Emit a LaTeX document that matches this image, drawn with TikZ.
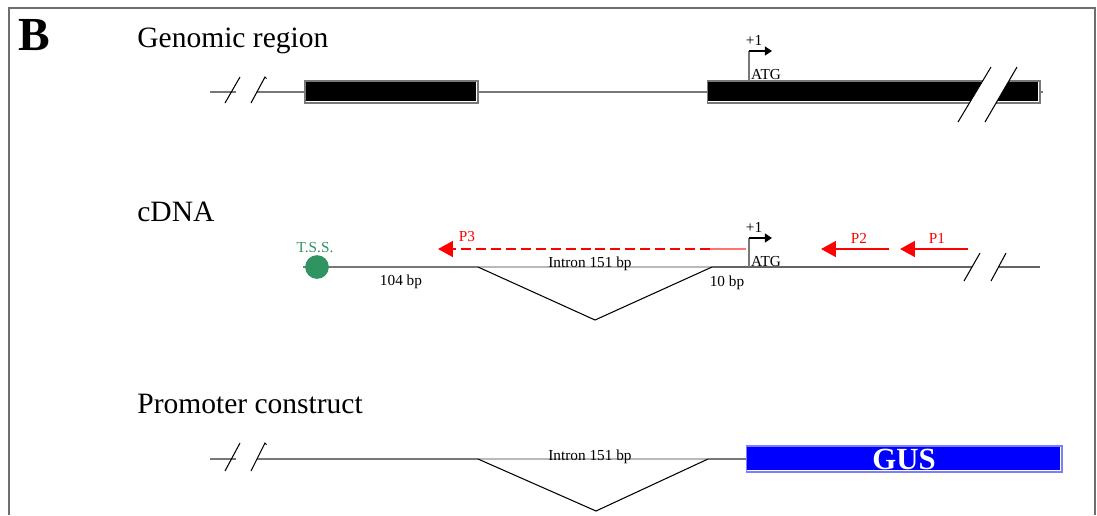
\documentclass[tikz,border=0pt]{standalone}
\usepackage{fontspec}
\setmainfont{Liberation Serif}
\usetikzlibrary{arrows.meta}
\definecolor{lgray}{RGB}{120,120,120}
\definecolor{dgray}{RGB}{100,100,100}
\definecolor{igray}{RGB}{185,185,185}
\definecolor{framegray}{RGB}{110,110,110}
\definecolor{tssgreen}{RGB}{48,148,98}
\definecolor{pinkline}{RGB}{255,115,115}
\definecolor{gusborder}{RGB}{125,125,255}
\tikzset{
  bigtxt/.style={font=\fontsize{16.8}{20}\selectfont, inner sep=0pt, anchor=base west},
  smalltxt/.style={font=\fontsize{8.7}{10}\selectfont, inner sep=0pt},
  dna/.style={draw=lgray, line width=1.3pt},
  darkdna/.style={draw=dgray, line width=1.3pt},
  intronline/.style={draw=igray, line width=1pt},
  splice/.style={draw=black, line width=0.6pt},
  brk/.style={draw=black, line width=0.6pt},
  primer/.style={draw=red, line width=1.2pt, -{Triangle[length=8.5pt,width=9pt]}},
  startarr/.style={draw=black, line width=1pt, -{Triangle[length=4pt,width=5pt]}},
  startstem/.style={draw=lgray, line width=0.8pt},
  exonbox/.style={draw=lgray, fill=black, line width=0.6pt, inner sep=0pt, minimum height=0.44cm},
}
\begin{document}
\begin{tikzpicture}[x=0.02cm,y=-0.02cm]
\useasboundingbox (0,0) rectangle (1097,515);
% frame
\draw[framegray, line width=0.9pt] (9,515) -- (9,8) -- (1095,8) -- (1095,515);
\node[font=\bfseries\fontsize{27}{30}\selectfont, inner sep=0pt, anchor=base west] (panel) at (18,50) {B};

% ---------------- Genomic region ----------------
\node[bigtxt] (tgen) at (137,47) {Genomic region};
\coordinate (g0) at (210,92);
\coordinate (g1) at (236,92);
\coordinate (g2) at (257,92);
\node[exonbox, minimum width=3.46cm] (exon1) at (391.5,92) {};
\node[exonbox, minimum width=6.66cm] (exon2) at (873.5,92) {};
\coordinate (gend) at (1043,92);
\draw[dna] (g0) -- (g1);
\draw[dna] (g2) -- (exon1.west);
\draw[dna] (exon1.east) -- (exon2.west);
\draw[dna] (exon2.east) -- (gend);
\draw[white, line width=0.6pt] ([shift={(0.6pt,1.1pt)}]exon1.south west) -- ([shift={(-1.1pt,1.1pt)}]exon1.south east) -- ([shift={(-1.1pt,-0.6pt)}]exon1.north east);
\draw[white, line width=0.6pt] ([shift={(0.6pt,1.1pt)}]exon2.south west) -- ([shift={(-1.1pt,1.1pt)}]exon2.south east) -- ([shift={(-1.1pt,-0.6pt)}]exon2.north east);
% breaks
\draw[brk] (225,103) -- (240,77);
\draw[brk] (251,103) -- (265,77) -- (266.5,78.5);
\fill[white] (958,122) -- (991,67) -- (1017,67) -- (985,122) -- cycle;
\draw[brk] (958,122) -- (991,67);
\draw[brk] (985,122) -- (1017,67);
% start
\coordinate (s1b) at (749,80);
\coordinate (s1t) at (749,51);
\coordinate (s1h) at (772,51);
\draw[startstem] (s1b) -- (s1t);
\draw[startarr] (s1t) -- (s1h);
\node[smalltxt] (p1a) at (754,40) {+1};
\node[smalltxt] (atg1) at (766,75) {ATG};

% ---------------- cDNA ----------------
\node[bigtxt] (tcdna) at (137,221) {cDNA};
\coordinate (c0) at (303,267);
\coordinate (c1) at (478,267);
\coordinate (cbot) at (595,320);
\coordinate (c2) at (712,267);
\coordinate (c3) at (972,267);
\coordinate (c4) at (999,267);
\coordinate (c5) at (1040,267);
\draw[dna] (c0) -- (c1);
\draw[intronline] (c1) -- (c2);
\draw[darkdna] (c2) -- (c3);
\draw[darkdna] (c4) -- (c5);
\draw[splice] (c1) -- (cbot) -- (c2);
\draw[brk] (964,281) -- (980,253);
\draw[brk] (991,281) -- (1006,253);
\node[circle, fill=tssgreen, inner sep=0pt, minimum width=13pt, minimum height=13.5pt] (tss) at (317,267) {};
\node[smalltxt, text=tssgreen] (tsslbl) at (315,248) {T.S.S.};
\node[smalltxt] (b104) at (401,282) {104 bp};
\node[smalltxt, anchor=base] (intr1) at (590,267.5) {Intron 151 bp};
\node[smalltxt] (b10) at (727,283) {10 bp};
% start
\coordinate (s2b) at (749,267);
\coordinate (s2t) at (749,238);
\coordinate (s2h) at (772,238);
\draw[startstem] (s2b) -- (s2t);
\draw[startarr] (s2t) -- (s2h);
\node[smalltxt] (p1b) at (754,227) {+1};
\node[smalltxt] (atg2) at (766,262) {ATG};
% primers
\coordinate (p3tail) at (710,249);
\coordinate (p3tip) at (438,249);
\coordinate (pinkA) at (708,249);
\coordinate (pinkB) at (746,249);
\draw[pinkline, line width=1pt] (pinkA) -- (pinkB);
\draw[primer, dash pattern=on 5.7pt off 2.8pt] (p3tail) -- (p3tip);
\node[smalltxt, text=red] (lp3) at (467,237) {P3};
\coordinate (p2tail) at (889,249);
\coordinate (p2tip) at (821,249);
\draw[primer] (p2tail) -- (p2tip);
\node[smalltxt, text=red] (lp2) at (859,238) {P2};
\coordinate (p1tail) at (968,249);
\coordinate (p1tip) at (900,249);
\draw[primer] (p1tail) -- (p1tip);
\node[smalltxt, text=red] (lp1) at (937,238) {P1};

% ---------------- Promoter construct ----------------
\node[bigtxt] (tprom) at (137,413) {Promoter construct};
\coordinate (q0) at (210,459);
\coordinate (q1) at (236,459);
\coordinate (q2) at (257,459);
\coordinate (q3) at (478,459);
\coordinate (qbot) at (596,511);
\coordinate (q4) at (708,459);
\node[draw=gusborder, fill=blue, line width=0.6pt, inner sep=0pt, minimum width=6.32cm, minimum height=0.52cm, text=white, font=\bfseries\fontsize{17.5}{20}\selectfont] (gus) at (904,459) {GUS};
\draw[dna] (q0) -- (q1);
\draw[dna] (q2) -- (q3);
\draw[intronline] (q3) -- (q4);
\draw[dna] (q4) -- (gus.west);
\draw[splice] (q3) -- (qbot) -- (q4);
\draw[white, line width=0.6pt] ([shift={(0.6pt,1.1pt)}]gus.south west) -- ([shift={(-1.1pt,1.1pt)}]gus.south east) -- ([shift={(-1.1pt,-0.6pt)}]gus.north east);
\draw[brk] (225,471) -- (240,443);
\draw[brk] (251,471) -- (265,443) -- (266.5,444.5);
\node[smalltxt, anchor=base] (intr2) at (590,460) {Intron 151 bp};
\end{tikzpicture}
\end{document}
